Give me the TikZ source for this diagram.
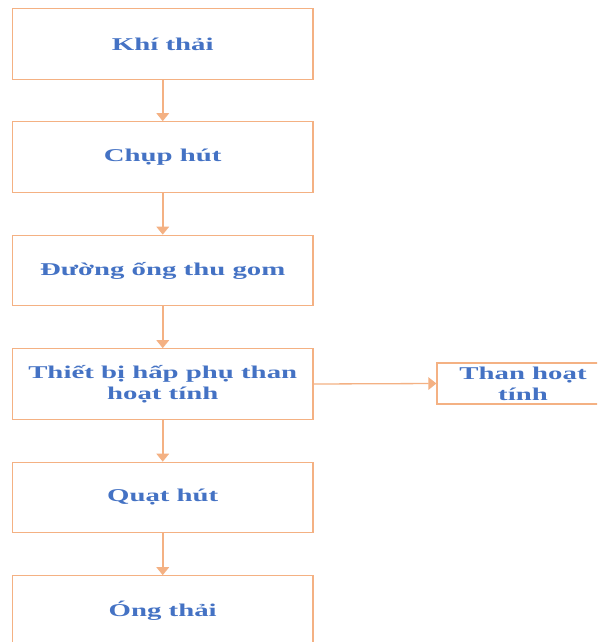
\documentclass[tikz,border=0pt]{standalone}
\usepackage{fontspec}
\setmainfont{Liberation Serif}[FakeStretch=1.6]
\usetikzlibrary{arrows.meta}
\definecolor{boxline}{HTML}{F4B183}
\definecolor{txtblue}{HTML}{4472C4}
\tikzset{
  stagebox/.style={rectangle, draw=boxline, line width=1.2pt, fill=white,
    minimum width=300.5pt, minimum height=70.5pt, inner sep=0pt,
    align=center, text=txtblue, font=\fontsize{18}{21}\selectfont\bfseries},
  sidebox/.style={stagebox, minimum width=172pt, minimum height=41pt},
  flow/.style={draw=boxline, line width=1.8pt,
    -{Triangle[length=8pt,width=12.5pt]}}
}
\begin{document}
\begin{tikzpicture}[x=1pt,y=1pt]
  \useasboundingbox (0,0) rectangle (597,-642);
  \clip (0,0) rectangle (597,-642);
  \fill[white] (0,0) rectangle (597,-642);
  % main process chain
  \node[stagebox] (khi)   at (162.75,-44)    {Khí thải};
  \node[stagebox] (chup)  at (162.75,-157)   {Chụp hút};
  \node[stagebox] (ong)   at (162.75,-270.5) {Đường ống thu gom};
  \node[stagebox] (hap)   at (162.75,-384)   {Thiết bị hấp phụ than\\hoạt tính};
  \node[stagebox] (quat)  at (162.75,-497.5) {Quạt hút};
  \node[stagebox] (thai)  at (162.75,-611)   {Óng thải};
  % spent carbon output
  \node[sidebox]  (than)  at (523,-383.5)    {Than hoạt\\tính};
  \draw[flow] (khi)  -- (chup);
  \draw[flow] (chup) -- (ong);
  \draw[flow] (ong)  -- (hap);
  \draw[flow] (hap)  -- (quat);
  \draw[flow] (quat) -- (thai);
  \draw[flow, line width=1.3pt] (hap.east) -- (than.west);
\end{tikzpicture}
\end{document}
